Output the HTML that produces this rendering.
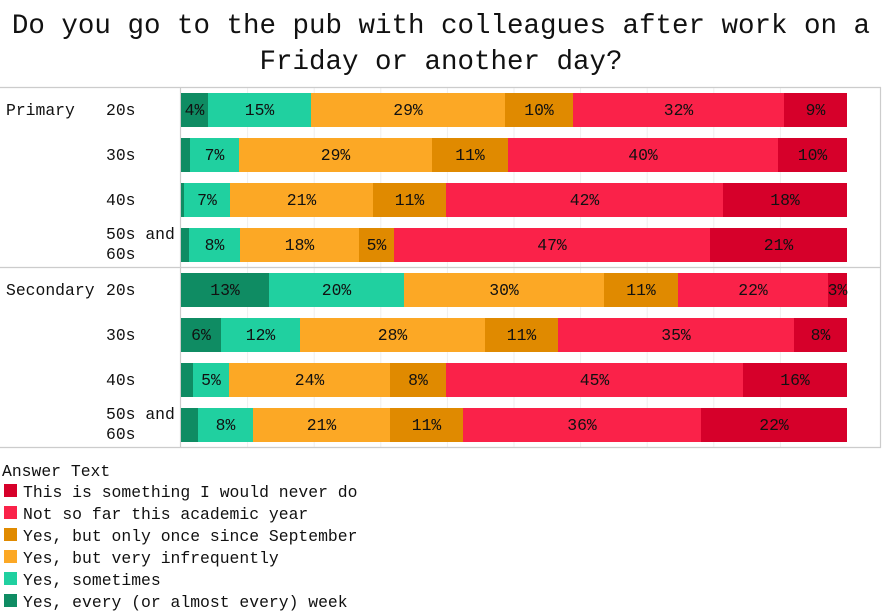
<!DOCTYPE html>
<html><head><meta charset="utf-8"><style>
body{margin:0;background:#fff;}
svg{display:block;font-family:"Liberation Mono","DejaVu Sans Mono",monospace;}
</style></head><body>
<svg width="882" height="613" viewBox="0 0 882 613" xmlns="http://www.w3.org/2000/svg">
<text x="441" y="33" font-size="27.5" text-anchor="middle" fill="#111">Do you go to the pub with colleagues after work on a</text>
<text x="441" y="69" font-size="27.5" text-anchor="middle" fill="#111">Friday or another day?</text>
<g stroke="#eee" stroke-width="1">
<line x1="247.6" y1="88" x2="247.6" y2="447"/><line x1="314.2" y1="88" x2="314.2" y2="447"/><line x1="380.8" y1="88" x2="380.8" y2="447"/><line x1="447.4" y1="88" x2="447.4" y2="447"/><line x1="514" y1="88" x2="514" y2="447"/><line x1="580.6" y1="88" x2="580.6" y2="447"/><line x1="647.2" y1="88" x2="647.2" y2="447"/><line x1="713.8" y1="88" x2="713.8" y2="447"/><line x1="780.4" y1="88" x2="780.4" y2="447"/>
</g>
<g stroke="#ccc" stroke-width="1.2" fill="none">
<line x1="0" y1="87.5" x2="881" y2="87.5"/><line x1="0" y1="267.5" x2="881" y2="267.5"/><line x1="0" y1="447.5" x2="881" y2="447.5"/>
<line x1="180.5" y1="87" x2="180.5" y2="448"/><line x1="880.5" y1="87" x2="880.5" y2="448"/>
</g>
<g font-size="16.4" fill="#111">
<text x="6" y="115">Primary</text><text x="6" y="295">Secondary</text>
<text x="106" y="115">20s</text><text x="106" y="160">30s</text><text x="106" y="205">40s</text>
<text x="106" y="239">50s and</text><text x="106" y="259">60s</text>
<text x="106" y="295">20s</text><text x="106" y="340">30s</text><text x="106" y="385">40s</text>
<text x="106" y="419">50s and</text><text x="106" y="439">60s</text>
</g>
<g font-size="16.4" fill="#111">
<text x="2" y="476">Answer Text</text>
<rect x="4" y="484" width="13" height="13" fill="#d6002a"/><text x="23" y="497">This is something I would never do</text>
<rect x="4" y="506" width="13" height="13" fill="#fa2249"/><text x="23" y="519">Not so far this academic year</text>
<rect x="4" y="528" width="13" height="13" fill="#e08a00"/><text x="23" y="541">Yes, but only once since September</text>
<rect x="4" y="550" width="13" height="13" fill="#fca825"/><text x="23" y="563">Yes, but very infrequently</text>
<rect x="4" y="572" width="13" height="13" fill="#20d0a0"/><text x="23" y="585">Yes, sometimes</text>
<rect x="4" y="594" width="13" height="13" fill="#0f8c63"/><text x="23" y="607">Yes, every (or almost every) week</text>
</g>
<g font-size="16.4" fill="#111" text-anchor="middle">
<rect x="181" y="93" width="27" height="34" fill="#0f8c63"/><rect x="208" y="93" width="103" height="34" fill="#20d0a0"/><rect x="311" y="93" width="194" height="34" fill="#fca825"/><rect x="505" y="93" width="68" height="34" fill="#e08a00"/><rect x="573" y="93" width="211" height="34" fill="#fa2249"/><rect x="784" y="93" width="63" height="34" fill="#d6002a"/>
<text x="194.5" y="115">4%</text><text x="259.5" y="115">15%</text><text x="408" y="115">29%</text><text x="539" y="115">10%</text><text x="678.5" y="115">32%</text><text x="815.5" y="115">9%</text>
<rect x="181" y="138" width="9" height="34" fill="#0f8c63"/><rect x="190" y="138" width="49" height="34" fill="#20d0a0"/><rect x="239" y="138" width="193" height="34" fill="#fca825"/><rect x="432" y="138" width="76" height="34" fill="#e08a00"/><rect x="508" y="138" width="270" height="34" fill="#fa2249"/><rect x="778" y="138" width="69" height="34" fill="#d6002a"/>
<text x="214.5" y="160">7%</text><text x="335.5" y="160">29%</text><text x="470" y="160">11%</text><text x="643" y="160">40%</text><text x="812.5" y="160">10%</text>
<rect x="181" y="183" width="3" height="34" fill="#0f8c63"/><rect x="184" y="183" width="46" height="34" fill="#20d0a0"/><rect x="230" y="183" width="143" height="34" fill="#fca825"/><rect x="373" y="183" width="73" height="34" fill="#e08a00"/><rect x="446" y="183" width="277" height="34" fill="#fa2249"/><rect x="723" y="183" width="124" height="34" fill="#d6002a"/>
<text x="207" y="205">7%</text><text x="301.5" y="205">21%</text><text x="409.5" y="205">11%</text><text x="584.5" y="205">42%</text><text x="785" y="205">18%</text>
<rect x="181" y="228" width="8" height="34" fill="#0f8c63"/><rect x="189" y="228" width="51" height="34" fill="#20d0a0"/><rect x="240" y="228" width="119" height="34" fill="#fca825"/><rect x="359" y="228" width="35" height="34" fill="#e08a00"/><rect x="394" y="228" width="316" height="34" fill="#fa2249"/><rect x="710" y="228" width="137" height="34" fill="#d6002a"/>
<text x="214.5" y="250">8%</text><text x="299.5" y="250">18%</text><text x="376.5" y="250">5%</text><text x="552" y="250">47%</text><text x="778.5" y="250">21%</text>
<rect x="181" y="273" width="88" height="34" fill="#0f8c63"/><rect x="269" y="273" width="135" height="34" fill="#20d0a0"/><rect x="404" y="273" width="200" height="34" fill="#fca825"/><rect x="604" y="273" width="74" height="34" fill="#e08a00"/><rect x="678" y="273" width="150" height="34" fill="#fa2249"/><rect x="828" y="273" width="19" height="34" fill="#d6002a"/>
<text x="225" y="295">13%</text><text x="336.5" y="295">20%</text><text x="504" y="295">30%</text><text x="641" y="295">11%</text><text x="753" y="295">22%</text><text x="837.5" y="295">3%</text>
<rect x="181" y="318" width="40" height="34" fill="#0f8c63"/><rect x="221" y="318" width="79" height="34" fill="#20d0a0"/><rect x="300" y="318" width="185" height="34" fill="#fca825"/><rect x="485" y="318" width="73" height="34" fill="#e08a00"/><rect x="558" y="318" width="236" height="34" fill="#fa2249"/><rect x="794" y="318" width="53" height="34" fill="#d6002a"/>
<text x="201" y="340">6%</text><text x="260.5" y="340">12%</text><text x="392.5" y="340">28%</text><text x="521.5" y="340">11%</text><text x="676" y="340">35%</text><text x="820.5" y="340">8%</text>
<rect x="181" y="363" width="12" height="34" fill="#0f8c63"/><rect x="193" y="363" width="36" height="34" fill="#20d0a0"/><rect x="229" y="363" width="161" height="34" fill="#fca825"/><rect x="390" y="363" width="56" height="34" fill="#e08a00"/><rect x="446" y="363" width="297" height="34" fill="#fa2249"/><rect x="743" y="363" width="104" height="34" fill="#d6002a"/>
<text x="211" y="385">5%</text><text x="309.5" y="385">24%</text><text x="418" y="385">8%</text><text x="594.5" y="385">45%</text><text x="795" y="385">16%</text>
<rect x="181" y="408" width="17" height="34" fill="#0f8c63"/><rect x="198" y="408" width="55" height="34" fill="#20d0a0"/><rect x="253" y="408" width="137" height="34" fill="#fca825"/><rect x="390" y="408" width="73" height="34" fill="#e08a00"/><rect x="463" y="408" width="238" height="34" fill="#fa2249"/><rect x="701" y="408" width="146" height="34" fill="#d6002a"/>
<text x="225.5" y="430">8%</text><text x="321.5" y="430">21%</text><text x="426.5" y="430">11%</text><text x="582" y="430">36%</text><text x="774" y="430">22%</text>
</g>
</svg>
</body></html>
